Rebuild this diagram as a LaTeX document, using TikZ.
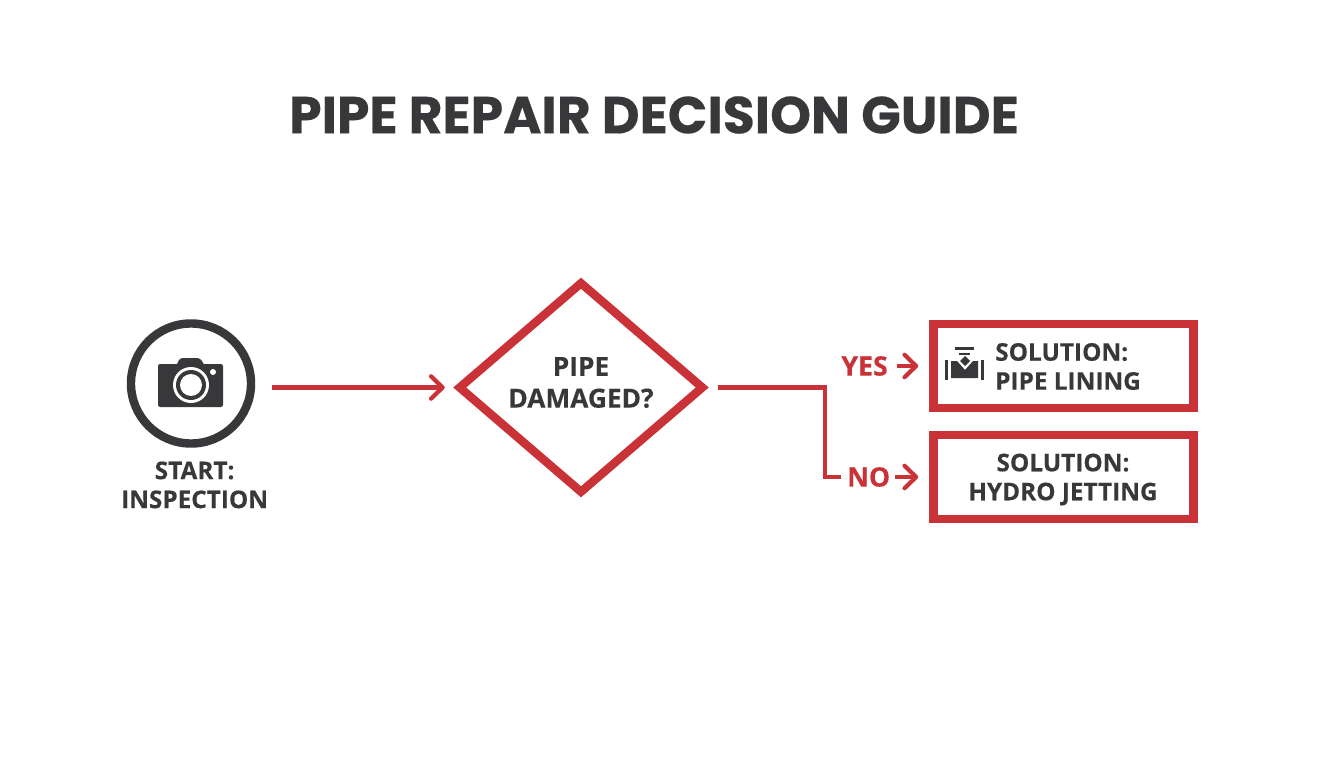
\documentclass[tikz,border=0pt]{standalone}
\usepackage{fontspec}
\setmainfont{Open Sans}[BoldFeatures={FakeBold=0.3}]
\newfontfamily\titlefont{Poppins}[BoldFeatures={FakeBold=0.3}]
\usetikzlibrary{positioning,arrows.meta,shapes.geometric,calc}
\definecolor{pipered}{HTML}{C93236}
\definecolor{pipedark}{HTML}{38383A}

\begin{document}
\begin{tikzpicture}[x=0.025cm, y=-0.025cm, >={Straight Barb[length=2.9mm,width=5.6mm,line width=3pt,round]}, every node/.style={font=\fontsize{17.3}{20.6}\selectfont\bfseries, text=pipedark, align=center}]
\tikzstyle{sol}=[rectangle, draw=pipered, line width=6pt, minimum width=6.5cm, minimum height=2.1cm, fill=white]
\tikzstyle{flow}=[draw=pipered, line width=3pt]
\tikzstyle{tag}=[font=\fontsize{19}{22}\selectfont\bfseries, text=pipered, inner sep=0pt]
\useasboundingbox (0,0) rectangle (1344,768);

% Title
\node[font=\titlefont\fontsize{37}{43}\selectfont\bfseries] (title) at (654,115) {PIPE REPAIR DECISION GUIDE};

% Start with camera
\node[circle, draw=pipedark, line width=6pt, minimum size=3.0cm, inner sep=0pt] (start) at (191,383.5) {};
\node[below=0.22cm of start, xshift=0.09cm] (startlbl) {START:\\INSPECTION};
\fill[pipedark, rounded corners=1.5pt] (158,364) rectangle (223,407);
\fill[pipedark, rounded corners=2pt] (176,366) -- (180,358) -- (200,358) -- (205,366) -- cycle;
\fill[white] (191,385) circle (18);
\fill[pipedark] (191,385) circle (15);
\fill[white] (191,385) circle (11);
\fill[white] (213,372) circle (3);

% Decision
\node[diamond, draw=pipered, line width=6pt, minimum width=6.15cm, minimum height=5.3cm, inner sep=0pt] (dmg) at (581,387.5) {};
\node[font=\fontsize{18.7}{22.6}\selectfont\bfseries] (dmgtxt) at (581,382.5) {PIPE\\DAMAGED?};

% Outcomes
\node[sol] (lining) at (1063.5,366) {};
\node[sol] (jetting) at (1063.5,477) {};
\node[anchor=west, align=left, inner sep=0pt] (liningtxt) at (995,366.5) {SOLUTION:\\PIPE LINING};
\node (jettingtxt) at (1063,479.5) {SOLUTION:\\HYDRO JETTING};
\node[tag, left=1.03cm of lining.west] (yes) {YES};
\node[tag, left=0.97cm of jetting.west] (no) {NO};

% Connections
\draw[flow, ->] (start.east) ++(17,4) coordinate (startout) -- ($(dmg.west)+(-9,0)$) coordinate (dmgin);
\draw[flow] ($(dmg.east)+(10,0)$) coordinate (dmgout) -| ($(no.west)+(-22,0)$) -- ($(no.west)+(-6,0)$);
\draw[flow, ->] (yes.east) ++(9,0) -- ($(lining.west)+(-11,0)$);
\draw[flow, ->] (no.east) ++(5,0) -- ($(jetting.west)+(-11,0)$);

% Pipe icon
\fill[pipedark] (945,360) rectangle (948,380);
\fill[pipedark] (981,360) rectangle (984,380);
\fill[pipedark] (951,361) -- (957,361) -- (965,370) -- (973,361) -- (978,361) -- (978,378) -- (951,378) -- cycle;
\fill[pipedark] (965,356) -- (970,361) -- (965,366) -- (960,361) -- cycle;
\fill[pipedark] (955,347) rectangle (974,350);
\fill[pipedark] (959,353) rectangle (970,355);
\end{tikzpicture}
\end{document}
